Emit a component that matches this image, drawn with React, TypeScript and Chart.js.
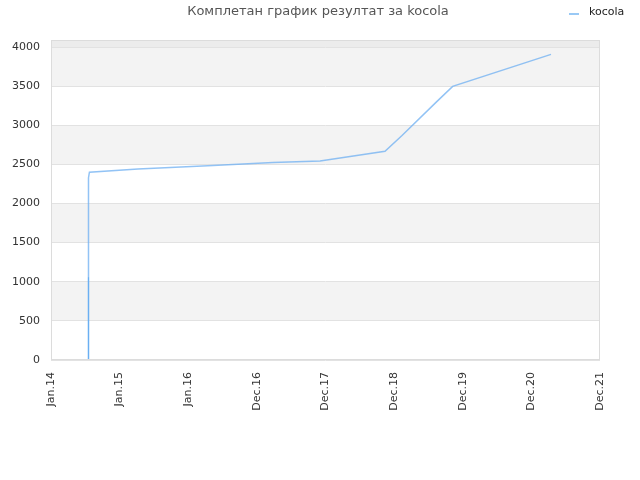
import React, { useEffect, useRef } from 'react';
import { Chart, registerables } from 'chart.js';

Chart.register(...registerables);

const titleText = 'Комплетан график резултат за kocola';
const seriesLabel = 'kocola';
const xLabels = ['Jan.14', 'Jan.15', 'Jan.16', 'Dec.16', 'Dec.17', 'Dec.18', 'Dec.19', 'Dec.20', 'Dec.21'];
const yTicks = [0, 500, 1000, 1500, 2000, 2500, 3000, 3500, 4000];
// positions along the category axis (0 = Jan.14, 8 = Dec.21)
const pointX = [0.5464, 0.5464, 0.5464, 0.5464, 0.56, 1.268, 2.361, 3.235, 3.92, 4.867, 5.115, 5.61, 5.853, 7.286];
const pointY = [0, 1060, 2050, 2330, 2400, 2440, 2485, 2525, 2545, 2668, 2869, 3293, 3497, 3906];
const yMax = 4090;

const FONT = '"DejaVu Sans", sans-serif';

export default function App() {
  const ref = useRef<HTMLCanvasElement | null>(null);

  useEffect(() => {
    document.body.style.margin = '0';
    const canvas = ref.current;
    if (!canvas) return;

    const bands = {
      id: 'bands',
      beforeDraw(chart: any) {
        const { ctx, chartArea: a, scales } = chart;
        const y = scales.y;
        ctx.save();
        for (let i = 0; i < yTicks.length; i++) {
          const lo = yTicks[i];
          const hi = i + 1 < yTicks.length ? yTicks[i + 1] : yMax;
          const top = y.getPixelForValue(hi);
          const bottom = y.getPixelForValue(lo);
          let color = i % 2 === 1 ? '#f3f3f3' : '#ffffff';
          if (i === yTicks.length - 1) color = '#ececec';
          ctx.fillStyle = color;
          ctx.fillRect(a.left, top, a.right - a.left, bottom - top);
        }
        ctx.restore();
      },
      afterDraw(chart: any) {
        const { ctx, chartArea: a } = chart;
        ctx.save();
        ctx.strokeStyle = '#dcdcdc';
        ctx.lineWidth = 1;
        ctx.strokeRect(a.left + 0.5, a.top + 0.5, a.right - a.left - 1, a.bottom - a.top - 1);
        // title
        ctx.fillStyle = '#555555';
        ctx.font = '13px ' + FONT;
        ctx.textAlign = 'center';
        ctx.textBaseline = 'middle';
        ctx.fillText(titleText, 318, 12);
        // legend
        ctx.strokeStyle = '#99c9f5';
        ctx.lineWidth = 2;
        ctx.beginPath();
        ctx.moveTo(569, 14);
        ctx.lineTo(579, 14);
        ctx.stroke();
        ctx.fillStyle = '#222222';
        ctx.font = '11px ' + FONT;
        ctx.textAlign = 'left';
        ctx.fillText(chart.data.datasets[0].label, 589, 12);
        ctx.restore();
      },
    };

    const chart = new Chart(canvas, {
      type: 'line',
      data: {
        datasets: [
          {
            label: seriesLabel,
            data: pointX.map((x, i) => ({ x, y: pointY[i] })),
            borderColor: 'rgba(110,175,242,0.75)',
            borderWidth: 1.5,
            pointRadius: 0,
            fill: false,
            tension: 0,
            segment: {
              borderColor: (c: any) =>
                c.p0.parsed.x === c.p1.parsed.x && Math.max(c.p0.parsed.y, c.p1.parsed.y) <= 1100
                  ? '#6aaff2'
                  : undefined,
            },
          },
        ],
      },
      options: {
        animation: false,
        responsive: false,
        maintainAspectRatio: false,
        layout: { padding: { top: 40, right: 40, left: 0, bottom: 0 } },
        plugins: {
          legend: { display: false },
          title: { display: false },
          tooltip: { enabled: false },
        },
        scales: {
          x: {
            type: 'linear',
            min: 0,
            max: 8,
            afterFit: (s: any) => { s.height = 120; },
            afterBuildTicks: (s: any) => {
              s.ticks = xLabels.map((_, i) => ({ value: i }));
            },
            grid: { display: false, drawTicks: false },
            border: { display: false },
            ticks: {
              autoSkip: false,
              minRotation: 90,
              maxRotation: 90,
              padding: 12,
              color: '#333333',
              font: { family: FONT, size: 11 },
              callback: (v: any) => xLabels[Math.round(Number(v))] ?? '',
            },
          },
          y: {
            type: 'linear',
            min: 0,
            max: yMax,
            afterFit: (s: any) => { s.width = 51; },
            afterBuildTicks: (s: any) => {
              s.ticks = yTicks.map((v) => ({ value: v }));
            },
            grid: { color: '#e2e2e2', drawTicks: false },
            border: { display: false },
            ticks: {
              autoSkip: false,
              padding: 11,
              color: '#333333',
              font: { family: FONT, size: 11 },
              callback: (v: any) => String(v),
            },
          },
        },
      },
      plugins: [bands],
    });

    return () => chart.destroy();
  }, []);

  return (
    <div style={{ position: 'relative', width: 640, height: 480 }}>
      <canvas ref={ref} width={640} height={480} style={{ width: 640, height: 480 }} />
    </div>
  );
}
